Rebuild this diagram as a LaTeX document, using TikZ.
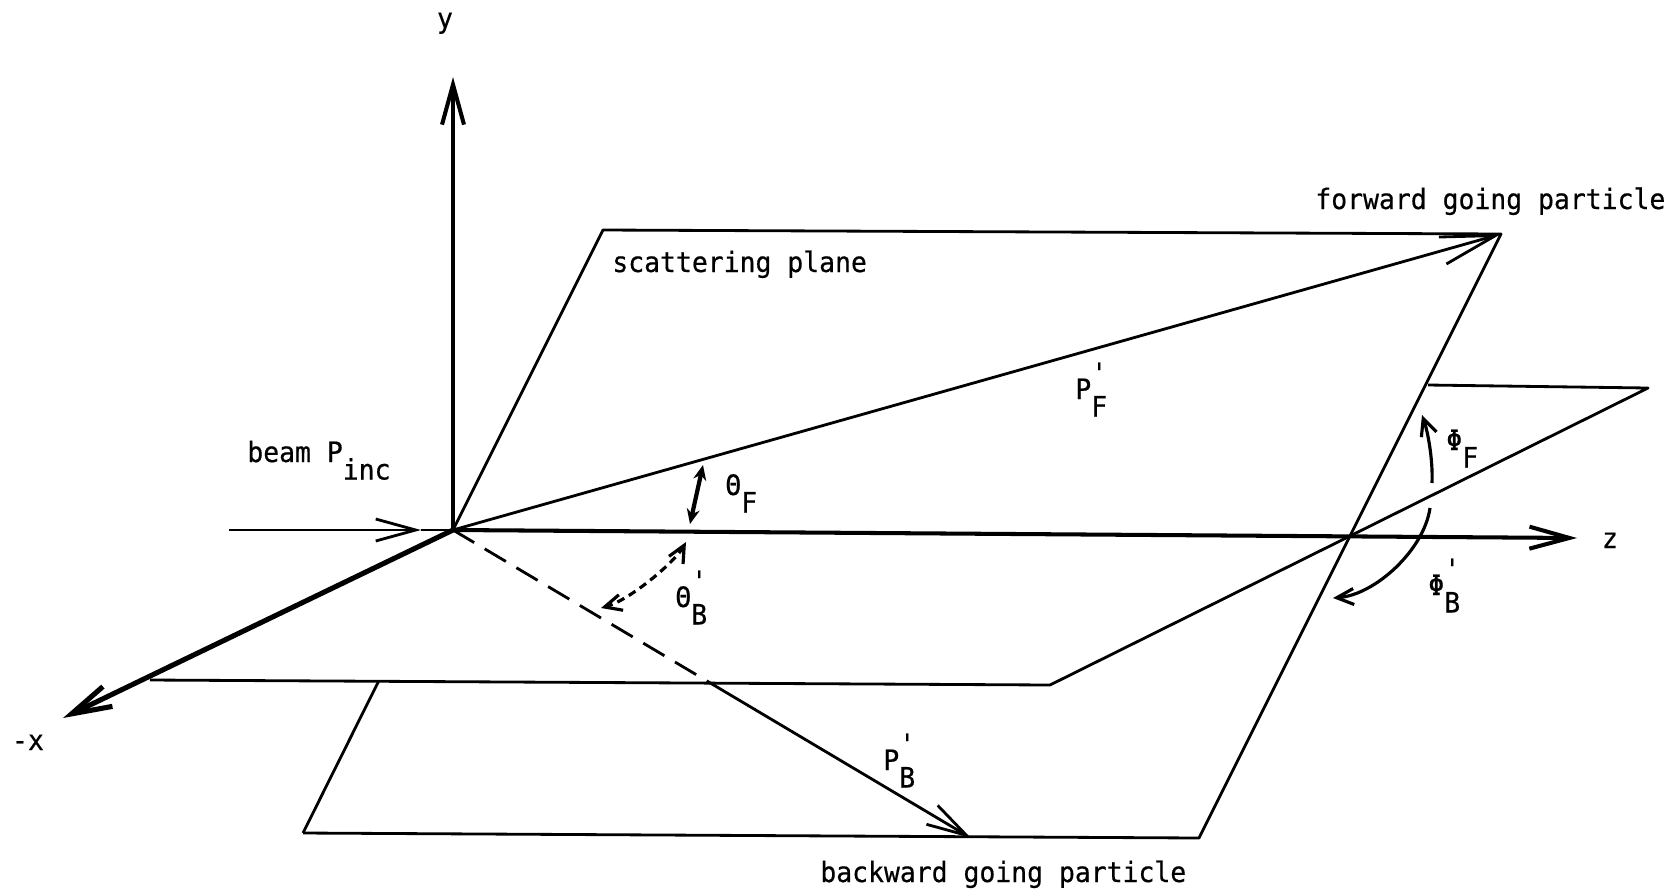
\documentclass[tikz,border=0pt]{standalone}
\usepackage{fontspec}
\newfontfamily\plotfont[FakeStretch=0.94, FakeBold=0.5]{DejaVu Sans Mono}
\usetikzlibrary{arrows.meta}
\tikzset{
  planeline/.style={line width=1.6pt, line join=round},
  axisline/.style={line width=2.3pt},
  thickaxis/.style={line width=2.9pt},
  hiddenline/.style={line width=1.6pt, dash pattern=on 14pt off 7pt},
  anglearrow/.style={line width=1.8pt},
  vtip/.tip={Straight Barb[length=8mm, width=4.4mm]},
  longtip/.tip={Straight Barb[length=11mm, width=5.6mm]},
  smalltip/.tip={Straight Barb[length=3.4mm, width=3.2mm]},
  solidtip/.tip={Stealth[length=3mm, width=2.6mm]},
  lbl/.style={font=\plotfont\fontsize{16}{18}\selectfont, inner sep=0pt,
    anchor=base west},
}
% letter with a lowered subscript, and the same with a prime over it
\newcommand{\lowsub}[2]{#1\raisebox{-0.35cm}{#2}}
\newcommand{\lowsubp}[2]{#1\raisebox{-0.35cm}{\rlap{\raisebox{0.67cm}{\textquotesingle}}#2}}

\begin{document}
\begin{tikzpicture}[x=0.02cm, y=-0.02cm]
    \useasboundingbox (0,0) rectangle (1675,893);
    % axes and beam
    \coordinate (O) at (453,530);
    \coordinate (ytip) at (453,77);
    \coordinate (xtip) at (63,718);
    \coordinate (ztip) at (1577,538);
    \coordinate (beamstart) at (229,530);
    \coordinate (beamtip) at (421,530);
    % scattering plane
    \coordinate (sTL) at (603,230);
    \coordinate (sTR) at (1501,234);
    \coordinate (sBR) at (1199,838);
    \coordinate (sBL) at (303,833);
    % x-z plane
    \coordinate (hFL) at (150,680);
    \coordinate (hFR) at (1050,685);
    \coordinate (hBR) at (1648,388);
    \coordinate (hBL) at (1428,385);
    \coordinate (sL) at (intersection of sTL--sBL and hFL--hFR);
    % backward particle
    \coordinate (pB) at (971,838);
    \coordinate (pBcut) at (intersection of O--pB and hFL--hFR);

    \draw[planeline] (sBL) -- (sL);
    \draw[planeline] (O) -- (sTL) -- (sTR) -- (sBR) -- (sBL);
    \draw[planeline] (hFL) -- (hFR) -- (hBR) -- (hBL);
    \draw[axisline, -vtip] (O) -- (ytip);
    \draw[thickaxis, -vtip] (O) -- (xtip);
    \draw[axisline, -vtip] (O) -- (ztip);
    \draw[planeline, -vtip] (beamstart) -- (beamtip);
    \draw[planeline] (beamtip) -- (O);
    \draw[planeline, -longtip] (O) -- (sTR);
    \draw[hiddenline] (O) -- (pBcut);
    \draw[planeline, -vtip] (pBcut) -- (pB);

    % angles
    \coordinate (thFa) at (703,465);
    \coordinate (thFb) at (690,524);
    \coordinate (thBa) at (686,542);
    \coordinate (thBb) at (601,608);
    \coordinate (phFa) at (1432,483);
    \coordinate (phFb) at (1422,415);
    \coordinate (phBa) at (1430,508);
    \coordinate (phBb) at (1333,598);
    \draw[line width=2.4pt, solidtip-solidtip] (thFa) -- (thFb);
    \draw[anglearrow, dash pattern=on 4.5pt off 3pt, smalltip-smalltip]
      (thBa) .. controls (675,562) and (630,600) .. (thBb);
    \draw[anglearrow, -smalltip] (phFa) .. controls (1433,460) and (1428,432) .. (phFb);
    \draw[anglearrow, -smalltip] (phBa) .. controls (1424,550) and (1375,595) .. (phBb);

    % labels
    \node[lbl, anchor=base] (ylab) at (445,28) {y};
    \node[lbl, anchor=base] (xlab) at (28,750) {-x};
    \node[lbl, anchor=base] (zlab) at (1610,548) {z};
    \node[lbl] (beamlab) at (247,462) {beam \lowsub{P}{inc}};
    \node[lbl] (planelab) at (612,272) {scattering plane};
    \node[lbl] (fwdlab) at (1315,209) {forward going particle};
    \node[lbl] (bwdlab) at (820,882) {backward going particle};
    \node[lbl] (pFlab) at (1075,399) {\lowsubp{P}{F}};
    \node[lbl] (pBlab) at (883,770) {\lowsubp{P}{B}};
    \node[lbl] (thFlab) at (725,495) {\lowsub{Θ}{F}};
    \node[lbl] (thBlab) at (675,607) {\lowsubp{Θ}{B}};
    \node[lbl] (phFlab) at (1446,450) {\lowsub{Φ}{F}};
    \node[lbl] (phBlab) at (1428,595) {\lowsubp{Φ}{B}};
\end{tikzpicture}
\end{document}
